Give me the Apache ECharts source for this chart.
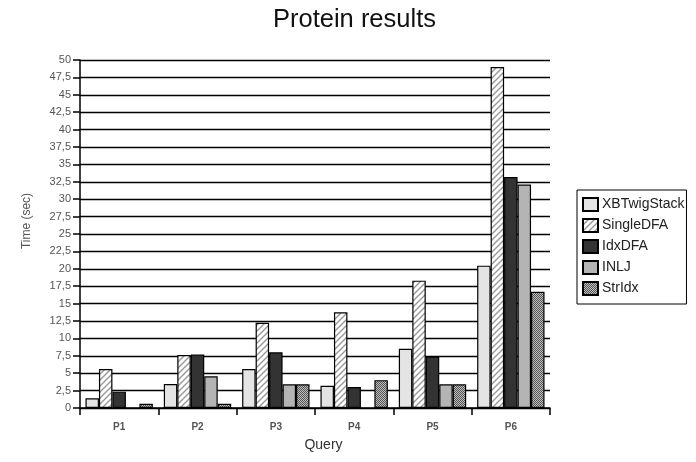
<!DOCTYPE html>
<html><head><meta charset="utf-8">
<script src="https://cdn.jsdelivr.net/npm/echarts@6/dist/echarts.min.js"></script>
<style>html,body{margin:0;padding:0;background:#fff}#c{width:696px;height:462px}</style>
</head><body><div id="c"></div>
<script>
const categories = ['P1', 'P2', 'P3', 'P4', 'P5', 'P6'];
const seriesNames = ['XBTwigStack', 'SingleDFA', 'IdxDFA', 'INLJ', 'StrIdx'];
const xbTwigStack = [1.4, 3.45, 5.6, 3.2, 8.5, 20.45];
const singleDFA = [5.6, 7.6, 12.25, 13.75, 18.3, 49.0];
const idxDFA = [2.35, 7.7, 8.0, 3.0, 7.4, 33.2];
const inlj = [null, 4.55, 3.4, null, 3.4, 32.1];
const strIdx = [0.6, 0.6, 3.4, 4.0, 3.4, 16.7];
const yMin = 0, yMax = 50, yStep = 2.5;

function hatchPattern() {
  const c = document.createElement('canvas');
  c.width = 6; c.height = 6;
  const g = c.getContext('2d');
  g.fillStyle = '#ffffff'; g.fillRect(0, 0, 6, 6);
  g.strokeStyle = '#9a9a9a'; g.lineWidth = 1.4;
  [[-3, 3, 3, -3], [0, 6, 6, 0], [3, 9, 9, 3]].forEach(l => {
    g.beginPath(); g.moveTo(l[0], l[1]); g.lineTo(l[2], l[3]); g.stroke();
  });
  return c;
}
function checkPattern() {
  const c = document.createElement('canvas');
  c.width = 4; c.height = 4;
  const g = c.getContext('2d');
  g.fillStyle = '#bdbdbd'; g.fillRect(0, 0, 4, 4);
  g.fillStyle = '#555555';
  g.fillRect(0, 0, 1, 1); g.fillRect(2, 0, 1, 1);
  g.fillRect(1, 1, 1, 1); g.fillRect(3, 1, 1, 1);
  g.fillRect(0, 2, 1, 1); g.fillRect(2, 2, 1, 1);
  g.fillRect(1, 3, 1, 1); g.fillRect(3, 3, 1, 1);
  return c;
}
const fills = [
  '#e4e4e4',
  { image: hatchPattern(), repeat: 'repeat' },
  '#333333',
  '#b4b4b4',
  { image: checkPattern(), repeat: 'repeat' }
];
const dataSets = [xbTwigStack, singleDFA, idxDFA, inlj, strIdx];
const FONT = '"Liberation Sans", Arial, sans-serif';

const chart = echarts.init(document.getElementById('c'), null, { renderer: 'canvas' });
chart.setOption({
  backgroundColor: '#ffffff',
  animation: false,
  title: {
    text: 'Protein results', left: 273, top: 7, padding: 0,
    textStyle: { fontFamily: FONT, fontSize: 25.5, fontWeight: 'normal', color: '#111' }
  },
  grid: { left: 80, right: 146, top: 60, bottom: 54, containLabel: false },
  legend: {
    orient: 'vertical', left: 577, top: 190,
    itemWidth: 15, itemHeight: 13, itemGap: 6,
    borderColor: '#000', borderWidth: 1, padding: [7, 2, 8, 5],
    icon: 'rect',
    textStyle: { fontFamily: FONT, fontSize: 14, color: '#222', padding: [0, 0, 0, -1] },
    data: seriesNames
  },
  xAxis: {
    type: 'category', data: categories,
    axisLine: { lineStyle: { color: '#000', width: 1.5 } },
    axisTick: { show: true, length: 7, lineStyle: { color: '#000', width: 1.5 } },
    axisLabel: { fontFamily: FONT, fontSize: 10, fontWeight: 'bold', color: '#555', margin: 14 },
    name: 'Query', nameLocation: 'middle', nameGap: 30,
    nameTextStyle: { fontFamily: FONT, fontSize: 14, color: '#333', padding: [0, 0, 0, 17] }
  },
  yAxis: {
    type: 'value', min: yMin, max: yMax, interval: yStep,
    axisLine: { show: true, lineStyle: { color: '#000', width: 1.5 } },
    axisTick: { show: true, length: 7, lineStyle: { color: '#000', width: 1.5 } },
    splitLine: { show: true, lineStyle: { color: '#000', width: 1.3 } },
    axisLabel: {
      fontFamily: FONT, fontSize: 11, color: '#555', margin: 9,
      formatter: v => String(v).replace('.', ',')
    },
    name: 'Time (sec)', nameLocation: 'middle', nameGap: 47,
    nameTextStyle: { fontFamily: FONT, fontSize: 12, color: '#555', padding: [0, 0, 0, 26] }
  },
  series: seriesNames.map((n, i) => ({
    name: n, type: 'bar', data: dataSets[i],
    barGap: '0%', barCategoryGap: '14%',
    itemStyle: { color: fills[i], borderColor: '#000', borderWidth: 1.2 },
    emphasis: { disabled: true }
  }))
});
</script></body></html>
